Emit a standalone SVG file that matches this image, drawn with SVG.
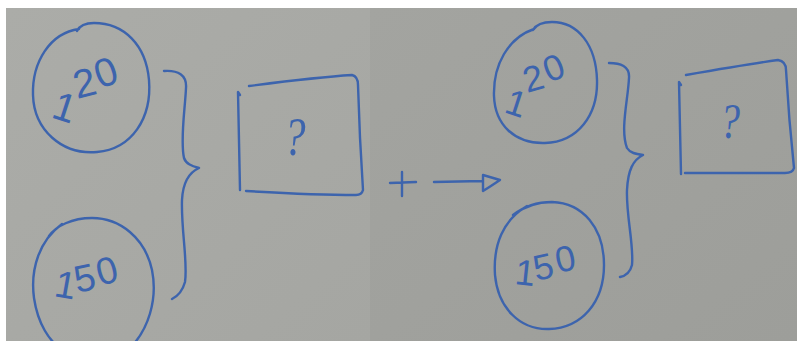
<svg xmlns="http://www.w3.org/2000/svg" width="797" height="341" viewBox="0 0 797 341">
<defs>
<linearGradient id="bgL" x1="0" y1="0" x2="1" y2="1"><stop offset="0" stop-color="#abaca8"/><stop offset="1" stop-color="#a5a6a2"/></linearGradient>
<linearGradient id="bgR" x1="0" y1="0" x2="1" y2="1"><stop offset="0" stop-color="#a3a4a0"/><stop offset="1" stop-color="#9d9e9a"/></linearGradient>
<style>
.ink{fill:none;stroke:#3d64ad;stroke-width:2.4;stroke-linecap:round;stroke-linejoin:round}
.num{font-family:"Liberation Sans",Arial,sans-serif;fill:#3d64ad}
.q{font-family:"Liberation Serif","Times New Roman",serif;fill:#3d64ad;font-style:italic}
</style>
</defs>
<rect x="0" y="0" width="797" height="341" fill="#ffffff"/>
<rect x="6" y="8" width="364" height="333" fill="url(#bgL)"/>
<rect x="370" y="8" width="427" height="333" fill="url(#bgR)"/>

<!-- Left panel -->
<g id="left-circle-120">
<path class="ink" d="M79,29 C50,33 32,62 33,95 C34,130 62,155 97,152 C132,149 152,118 149,80 C146,45 124,23 94,23 C86,23 80,25 77,31"/>
<text class="num" font-size="40" x="50 77 100" y="117 99 89" rotate="18 -14 -20">120</text>
</g>
<g id="left-circle-150">
<path class="ink" d="M62,224 C40,240 30,268 34,298 C38,325 50,341 60,348 M130,348 C148,330 158,300 152,270 C145,238 120,218 92,218 C72,218 56,226 49,236"/>
<text class="num" font-size="38" x="53 77 100" y="296 293 286" rotate="10 -12 -15">150</text>
</g>
<g id="left-box">
<path class="ink" d="M249,86 C280,82 320,77 352,75 C356,76 358,80 358,85 C359,120 361,160 363,190 C362,194 359,195 356,195 C320,195 280,193 246,191"/>
<path class="ink" d="M240,95 L238,92 L240,190"/>
<text class="q" font-size="54" transform="translate(284,155) scale(0.8,1)">?</text>
</g>

<!-- Right panel -->
<g id="right-circle-120">
<path class="ink" d="M534,29 C508,38 493,65 494,96 C495,125 515,144 545,143 C578,142 598,115 597,80 C596,45 578,22 552,22 C542,22 536,25 533,30"/>
<text class="num" font-size="36" x="503 527 549" y="112 93 83" rotate="18 -16 -22">120</text>
</g>
<g id="right-circle-150">
<path class="ink" d="M527,206 C503,220 493,245 495,275 C498,308 520,330 549,329 C582,328 604,302 604,265 C604,228 583,203 552,202 C535,202 522,208 513,215"/>
<text class="num" font-size="36" x="514 536 558" y="284 281 273" rotate="6 -12 -12">150</text>
</g>
<g id="right-box">
<path class="ink" d="M686,75 C715,70 750,64 778,60 C784,61 786,65 786,70 C788,105 791,140 794,168 C793,172 790,173 785,173 C755,173 715,173 685,173"/>
<path class="ink" d="M681,85 L679,82 L681,174"/>
<text class="q" font-size="50" transform="translate(720,138) scale(0.8,1)">?</text>
</g>
<g id="plus">
<path class="ink" d="M390,183 L416,182 M402,172 L402,196"/>
</g>

<g id="connectors">
<path id="brace-left" class="ink" d="M164,71 C178,70 187,75 186,88 C185,110 180,140 184,158 C186,164 192,166 199,168 C190,172 183,180 182,200 C181,230 188,262 185,282 C182,293 176,297 172,299"/>
<path id="brace-right" class="ink" d="M609,63 C620,63 630,66 629,78 C628,100 620,130 627,148 C630,153 636,154 643,155 C633,160 628,170 627,190 C626,215 634,245 632,265 C630,273 625,276 620,277"/>
<path id="arrow" class="ink" d="M434,182 L482,181 M483,175 L500,180 C494,184 488,188 483,191 Z"/>
</g>
</svg>
